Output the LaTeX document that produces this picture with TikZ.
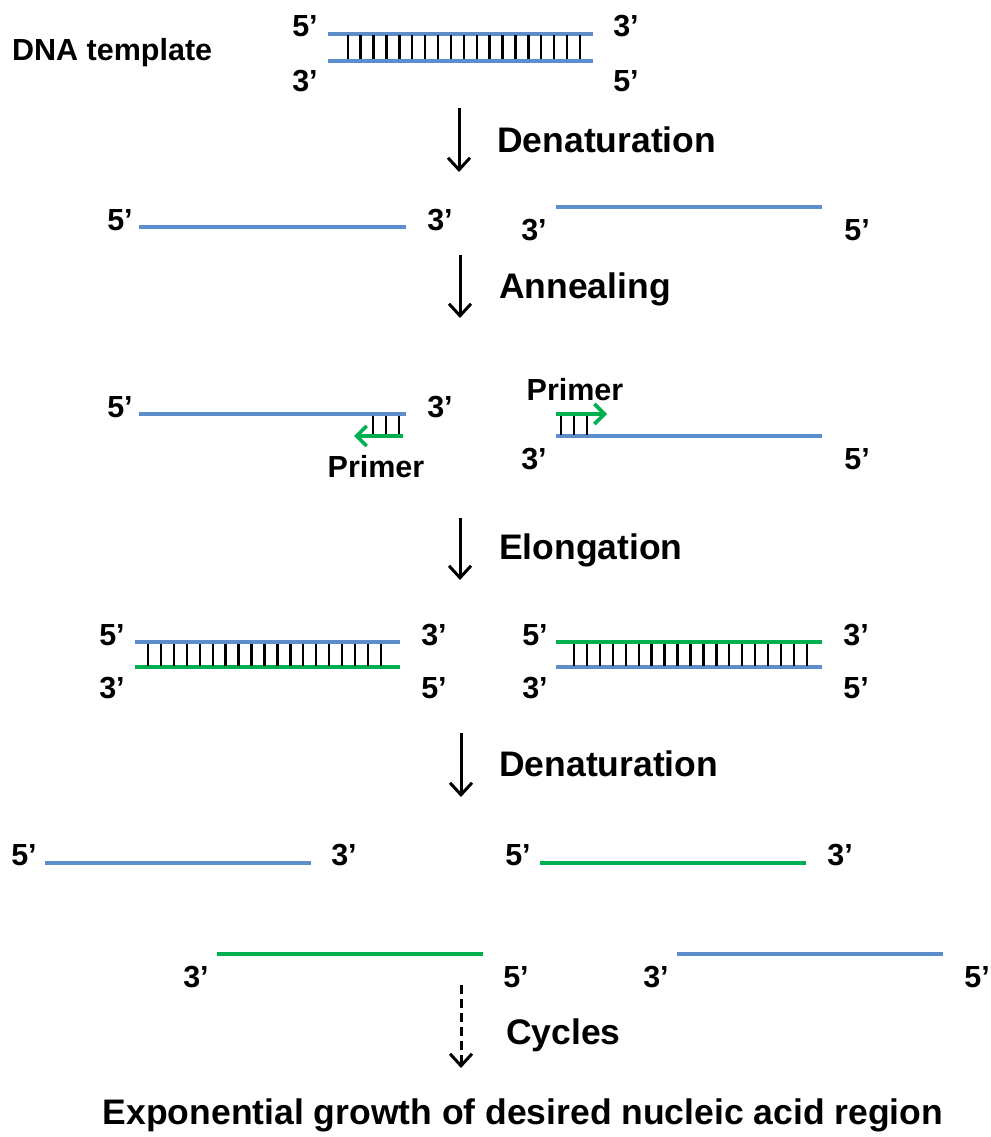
\documentclass[tikz,border=0pt]{standalone}
\usepackage{fontspec}
\setmainfont{Liberation Sans}
\usetikzlibrary{arrows.meta}
\definecolor{dnablue}{RGB}{91,142,203}
\definecolor{dnagreen}{RGB}{0,176,80}
\tikzset{
  sblue/.style={line width=3.6pt, draw=dnablue},
  sgreen/.style={line width=3.6pt, draw=dnagreen},
  rung/.style={line width=2.4pt, draw=black},
  lbl/.style={font=\fontsize{30.5}{31}\selectfont\bfseries, anchor=base, inner sep=0pt},
  steplbl/.style={font=\fontsize{35.5}{36}\selectfont\bfseries, anchor=base west, inner sep=0pt},
  steparrow/.style={draw=black, line width=3pt, arrows={-Straight Barb[length=12pt,width=22pt]}},
  primerarrow/.style={line width=3.6pt, draw=dnagreen, arrows={-Straight Barb[length=10pt,width=20pt]}}
}
\begin{document}
\begin{tikzpicture}[x=1pt,y=-1pt]
\useasboundingbox (0,0) rectangle (990,1137);

% ---------- DNA template ----------
\node[lbl, anchor=base west] (tmpl) at (12,61) {DNA template};
\coordinate (t1a) at (328,34); \coordinate (t1b) at (593,34);
\coordinate (t2a) at (328,61); \coordinate (t2b) at (593,61);
\draw[sblue] (t1a) -- (t1b);
\draw[sblue] (t2a) -- (t2b);
\foreach \i in {0,...,18} { \draw[rung] (347.7+12.9*\i,35.5) -- (347.7+12.9*\i,59.5); }
\node[lbl] (t5a) at (305,37) {5’};
\node[lbl] (t3a) at (626,37) {3’};
\node[lbl] (t3b) at (305,92) {3’};
\node[lbl] (t5b) at (626,92) {5’};

% ---------- Denaturation ----------
\coordinate (a1s) at (459,108); \coordinate (a1e) at (459,172);
\draw[steparrow] (a1s) -- (a1e);
\node[steplbl] (s1) at (497,152) {Denaturation};

% row 2
\coordinate (r2la) at (139,227); \coordinate (r2lb) at (406,227);
\draw[sblue] (r2la) -- (r2lb);
\node[lbl] (r2l5) at (120,230) {5’};
\node[lbl] (r2l3) at (440,230) {3’};
\coordinate (r2ra) at (556,207); \coordinate (r2rb) at (822,207);
\draw[sblue] (r2ra) -- (r2rb);
\node[lbl] (r2r3) at (534,240) {3’};
\node[lbl] (r2r5) at (857,240) {5’};

% ---------- Annealing ----------
\coordinate (a2s) at (460,255); \coordinate (a2e) at (460,318);
\draw[steparrow] (a2s) -- (a2e);
\node[steplbl] (s2) at (499,298) {Annealing};

% row 3
\coordinate (r3la) at (139,414); \coordinate (r3lb) at (406,414);
\draw[sblue] (r3la) -- (r3lb);
\node[lbl] (r3l5) at (120,417) {5’};
\node[lbl] (r3l3) at (440,417) {3’};
\foreach \x in {373,386,399} { \draw[rung] (\x,415.5) -- (\x,434.5); }
\coordinate (p1s) at (403,436); \coordinate (p1e) at (354,436);
\draw[primerarrow] (p1s) -- (p1e);
\node[lbl] (p1) at (376,477) {Primer};

\coordinate (r3ra) at (556,436); \coordinate (r3rb) at (822,436);
\draw[sblue] (r3ra) -- (r3rb);
\node[lbl] (r3r3) at (534,469) {3’};
\node[lbl] (r3r5) at (857,469) {5’};
\foreach \x in {561,574,587} { \draw[rung] (\x,415.5) -- (\x,434.5); }
\coordinate (p2s) at (556,414); \coordinate (p2e) at (607,414);
\draw[primerarrow] (p2s) -- (p2e);
\node[lbl] (p2) at (575,400) {Primer};

% ---------- Elongation ----------
\coordinate (a3s) at (460,518); \coordinate (a3e) at (460,580);
\draw[steparrow] (a3s) -- (a3e);
\node[steplbl] (s3) at (499,559) {Elongation};

% row 4 left
\coordinate (r4la) at (135,642); \coordinate (r4lb) at (400,642);
\coordinate (r4lc) at (135,667); \coordinate (r4ld) at (400,667);
\draw[sblue] (r4la) -- (r4lb);
\draw[sgreen] (r4lc) -- (r4ld);
\foreach \i in {0,...,18} { \draw[rung] (148+12.94*\i,643.5) -- (148+12.94*\i,665.5); }
\node[lbl] (r4l5a) at (112,645) {5’};
\node[lbl] (r4l3a) at (434,645) {3’};
\node[lbl] (r4l3b) at (112,698) {3’};
\node[lbl] (r4l5b) at (434,698) {5’};
% row 4 right
\coordinate (r4ra) at (556,642); \coordinate (r4rb) at (822,642);
\coordinate (r4rc) at (556,667); \coordinate (r4rd) at (822,667);
\draw[sgreen] (r4ra) -- (r4rb);
\draw[sblue] (r4rc) -- (r4rd);
\foreach \i in {0,...,18} { \draw[rung] (574+12.94*\i,643.5) -- (574+12.94*\i,665.5); }
\node[lbl] (r4r5a) at (535,645) {5’};
\node[lbl] (r4r3a) at (856,645) {3’};
\node[lbl] (r4r3b) at (535,698) {3’};
\node[lbl] (r4r5b) at (856,698) {5’};

% ---------- Denaturation ----------
\coordinate (a4s) at (461,733); \coordinate (a4e) at (461,797);
\draw[steparrow] (a4s) -- (a4e);
\node[steplbl] (s4) at (499,776) {Denaturation};

% row 5
\coordinate (r5la) at (45,863); \coordinate (r5lb) at (311,863);
\draw[sblue] (r5la) -- (r5lb);
\node[lbl] (r5l5) at (24,865) {5’};
\node[lbl] (r5l3) at (344,865) {3’};
\coordinate (r5ra) at (540,863); \coordinate (r5rb) at (806,863);
\draw[sgreen] (r5ra) -- (r5rb);
\node[lbl] (r5r5) at (518,865) {5’};
\node[lbl] (r5r3) at (840,865) {3’};

% row 6
\coordinate (r6la) at (217,954); \coordinate (r6lb) at (483,954);
\draw[sgreen] (r6la) -- (r6lb);
\node[lbl] (r6l3) at (196,987) {3’};
\node[lbl] (r6l5) at (516,987) {5’};
\coordinate (r6ra) at (677,954); \coordinate (r6rb) at (943,954);
\draw[sblue] (r6ra) -- (r6rb);
\node[lbl] (r6r3) at (656,987) {3’};
\node[lbl] (r6r5) at (977,987) {5’};

% ---------- Cycles ----------
\coordinate (a5s) at (461,985); \coordinate (a5e) at (461,1068);
\draw[steparrow, dash pattern=on 9pt off 5pt] (a5s) -- (a5e);
\node[steplbl] (s5) at (506,1044) {Cycles};

\node[steplbl, anchor=base] (final) at (523,1124) {Exponential growth of desired nucleic acid region};
\end{tikzpicture}
\end{document}
